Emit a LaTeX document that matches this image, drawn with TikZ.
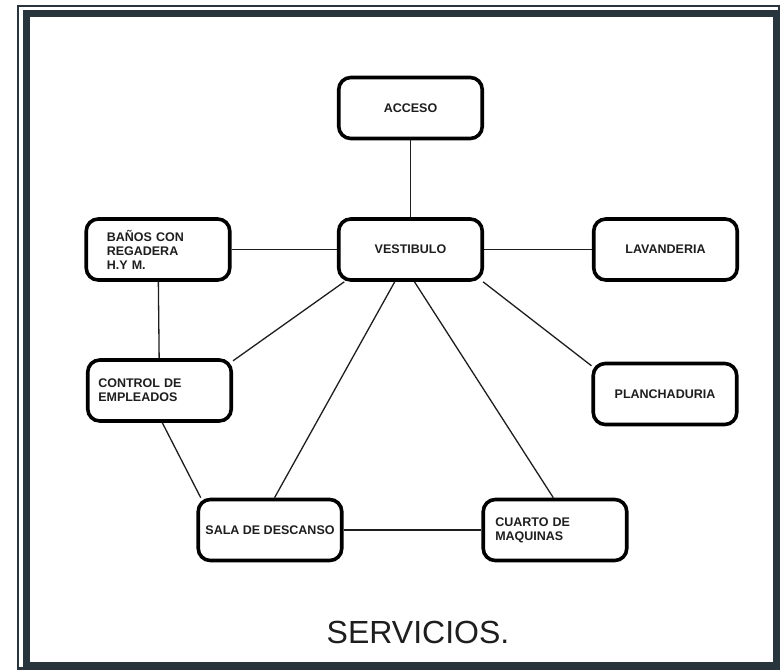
\documentclass[tikz,border=0pt]{standalone}
\usepackage{fontspec}
\setmainfont{Liberation Sans}
\definecolor{framecol}{HTML}{28353D}
\definecolor{inkcol}{HTML}{1E1E1E}
\begin{document}
\begin{tikzpicture}[x=1pt,y=-1pt,
  box/.style={draw=black, line width=3.6pt, rounded corners=12pt,
    minimum width=143.5pt, minimum height=61pt, inner sep=0pt,
    text=inkcol, font=\bfseries\fontsize{12.5}{14}\selectfont},
  multi/.style={align=left},
  link/.style={draw=inkcol, line width=1.3pt},
  framethin/.style={draw=framecol, line width=2.3pt},
  framethick/.style={draw=framecol, line width=7pt}]
\useasboundingbox (0,0) rectangle (784,670);
\fill[white] (0,0) rectangle (784,670);
% frame
\draw[framethin] (18.2,6.2) rectangle (779,668.5);
\draw[framethick] (26,13.3) rectangle (776.5,665.5);
% nodes
\node[box] (acc) at (410.5,108) {ACCESO};
\node[box] (ves) at (410.5,249.5) {VESTIBULO};
\node[box, multi, inner xsep=20.5pt, text width=102.5pt] (ban) at (158,249.5) {BAÑOS CON\\REGADERA\\H.Y M.};
\node[box] (lav) at (665.5,249.5) {LAVANDERIA};
\node[box, multi, inner xsep=10.5pt, text width=122.5pt] (con) at (159.5,390.5) {CONTROL DE\\EMPLEADOS};
\node[box] (pla) at (665,394) {PLANCHADURIA};
\node[box] (sal) at (270,530) {SALA DE DESCANSO};
\node[box, multi, inner xsep=12pt, text width=119.5pt] (cua) at (555,530) {CUARTO DE\\MAQUINAS};
% connectors
\draw[link] (acc) -- (ves);
\draw[link] (ban) -- (ves);
\draw[link] (ves) -- (lav);
\draw[link] (ban) -- (con);
\draw[link] (ves.206.4) -- (con.22.6);
\draw[link] (ves.-24.3) -- (pla.159.4);
\draw[link] (ves.244.5) -- (sal.82.9);
\draw[link] (ves.-83.9) -- (cua.93.6);
\draw[link] (con.-85.6) -- (sal.155.9);
\draw[link] (sal) -- (cua);
% title
\node[anchor=base, text=inkcol, font=\fontsize{32}{38}\selectfont, inner sep=0pt] (title) at (418,643) {SERVICIOS.};
\end{tikzpicture}
\end{document}
